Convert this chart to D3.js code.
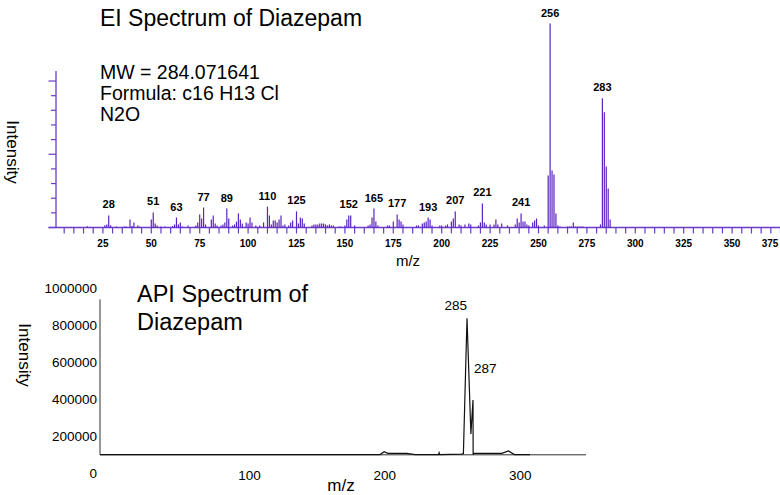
<!DOCTYPE html>
<html><head><meta charset="utf-8">
<script src="https://cdn.jsdelivr.net/npm/d3@7"></script>
<style>body{margin:0;background:#fff} svg{display:block} text{font-family:Arial,"Liberation Sans",sans-serif}</style>
</head><body><svg id="c" width="780" height="495"></svg>
<script>
// ---------- EI spectrum data ----------
const eiMz = [17,26,27,28,29,32,36,37,39,40,41,43,44,50,51,52,53,55,57,61,62,63,64,65,66,69,73,74,75,76,77,78,81,82,83,84,86,87,88,89,90,92,93,94,95,96,97,99,100,101,102,104,106,108,110,111,112,113,114,115,116,117,118,119,121,122,123,125,126,127,128,129,133,134,135,136,137,138,139,140,141,142,143,144,147,148,150,151,152,153,155,162,163,164,165,166,167,172,173,175,177,178,179,180,187,188,190,191,192,193,194,195,199,200,202,203,205,206,207,209,210,212,214,215,219,220,221,222,223,225,227,228,229,231,234,238,239,240,241,242,243,244,245,247,248,249,250,253,255,256,257,258,259,260,261,265,266,267,268,269,270,271,272,273,282,283,284,285,286,287];
const eiIntensity = [0.6,1.1,1.5,5.9,1.1,0.5,0.5,0.5,3.9,0.7,2.5,1.0,0.5,3.9,7.4,2.0,1.0,0.5,0.5,0.7,1.5,4.9,1.5,2.5,0.5,1.0,1.0,2.5,6.4,4.4,9.8,1.5,3.9,5.9,2.0,1.0,1.0,1.5,2.5,9.3,4.4,1.0,1.5,2.9,6.9,3.9,2.0,2.5,2.0,4.9,2.5,1.0,1.0,2.5,10.2,5.9,1.5,3.4,3.4,2.5,3.9,5.9,1.0,1.5,1.0,2.5,3.4,7.9,2.0,4.9,4.4,2.0,1.0,1.5,1.5,1.5,2.0,2.0,2.0,1.5,1.0,1.5,1.0,1.0,0.5,0.5,1.0,3.9,5.9,5.9,1.0,1.0,1.5,4.9,9.3,2.9,1.0,1.0,1.0,2.9,6.4,3.9,2.9,1.5,1.0,1.0,2.0,2.5,2.9,4.9,3.9,1.0,1.0,1.0,1.0,1.5,2.9,4.4,7.9,1.5,1.0,1.5,2.0,1.5,1.0,2.5,11.8,2.5,1.5,1.5,1.5,3.9,1.5,2.0,1.0,1.5,4.4,2.5,6.9,2.9,2.9,1.5,1.0,2.5,3.4,4.4,1.0,1.0,25.5,100,28.0,26.0,6.9,1.0,0.5,0.5,0.5,0.5,2.5,0.5,0.5,0.5,0.5,0.5,1.5,63.3,56.5,29.9,19.1,3.9];
const eiPeakLabels = [28,51,63,77,89,110,125,152,165,177,193,207,221,241,256,283];
const eiXTicks = d3.range(25, 400, 25);
const eiXMinorTicks = d3.range(5, 380, 5);
const eiYTicks = d3.range(0, 11).map(i => i * 7.18);
const eiTitle = "EI Spectrum of Diazepam";
const eiInfo = ["MW = 284.071641", "Formula: c16 H13 Cl", "N2O"];

// ---------- API spectrum data ----------
const apiMz = [162.7,256,257.4,258.6,264.9,267.7,275.5,275.7,275.9,283.2,283.8,285,286.3,287,287.05,287.3,296.6,298.8,300.8,306];
const apiIntensity = [101000,101000,117000,108000,108000,101000,101000,111000,101000,104000,106000,838000,212000,396000,100000,108000,108000,120500,101000,101000];
const apiPeakLabels = [285, 287];
const apiXTicks = [100, 200, 300];
const apiYTicks = [0, 200000, 400000, 600000, 800000, 1000000];
const apiYAxisExtent = [100000, 940000];
const apiTitle = ["API Spectrum of", "Diazepam"];

const svg = d3.select("#c");
const purple = "#5b22c0";
const axisPurple = "#6a3ccc";

// ===== EI chart =====
const x1 = d3.scaleLinear().domain([0, 375]).range([54.5, 780.5]);
const y1 = d3.scaleLinear().domain([0, 100]).range([227.5, 23.5]);
const ei = eiMz.map((m, i) => ({mz: m, v: eiIntensity[i]}));

const g1 = svg.append("g");
g1.append("line").attr("x1", 56).attr("x2", 56).attr("y1", y1(eiYTicks[10]) - 10).attr("y2", y1(0))
  .attr("stroke", axisPurple).attr("stroke-width", 1.3);
g1.selectAll(".yt").data(eiYTicks).join("line")
  .attr("x1", (d, i) => i % 5 === 0 ? 48.5 : 51).attr("x2", 56)
  .attr("y1", d => y1(d)).attr("y2", d => y1(d))
  .attr("stroke", axisPurple).attr("stroke-width", 1.2);
g1.append("line").attr("x1", 48.5).attr("x2", 780).attr("y1", y1(0)).attr("y2", y1(0))
  .attr("stroke", axisPurple).attr("stroke-width", 1.3);
g1.selectAll(".xt").data(eiXMinorTicks).join("line")
  .attr("x1", d => x1(d)).attr("x2", d => x1(d))
  .attr("y1", y1(0)).attr("y2", y1(0) + 6)
  .attr("stroke", axisPurple).attr("stroke-width", 1.2);
g1.selectAll(".xl").data(eiXTicks).join("text")
  .attr("x", d => Math.min(x1(d), 770)).attr("y", 247).attr("text-anchor", "middle")
  .attr("font-size", 10).attr("font-weight", "bold").text(d => d);
g1.selectAll(".bar").data(ei).join("line")
  .attr("x1", d => x1(d.mz)).attr("x2", d => x1(d.mz))
  .attr("y1", y1(0)).attr("y2", d => y1(d.v))
  .attr("stroke", purple).attr("stroke-width", 1.2);
g1.selectAll(".pl").data(eiPeakLabels).join("text")
  .attr("x", d => x1(d)).attr("y", d => y1(ei.find(p => p.mz === d).v) - 7)
  .attr("text-anchor", "middle").attr("font-size", 11).attr("font-weight", "bold").text(d => d);
g1.append("text").attr("x", 100).attr("y", 26).attr("font-size", 23).text(eiTitle);
g1.selectAll(".info").data(eiInfo).join("text")
  .attr("x", 100).attr("y", (d, i) => 79 + i * 21).attr("font-size", 19.5).text(d => d);
g1.append("text").attr("x", 408).attr("y", 266).attr("text-anchor", "middle").attr("font-size", 15).text("m/z");
g1.append("text").attr("transform", "translate(7,152) rotate(90)").attr("text-anchor", "middle").attr("font-size", 17).text("Intensity");

// ===== API chart =====
const xData = d3.scaleLinear().domain([160, 310]).range([92, 542]);
const xAxis2 = d3.scaleLinear().domain([0, 350]).range([114, 588]);
const y2 = d3.scaleLinear().domain([0, 1000000]).range([473.3, 288.3]);
const api = apiMz.map((m, i) => ({mz: m, v: apiIntensity[i]}));
const g2 = svg.append("g");
const axCol = "#333";
g2.append("line").attr("x1", 100).attr("x2", 100).attr("y1", y2(apiYAxisExtent[1])).attr("y2", y2(apiYAxisExtent[0]))
  .attr("stroke", axCol).attr("stroke-width", 1);
g2.append("line").attr("x1", 100).attr("x2", 586).attr("y1", y2(apiYAxisExtent[0])).attr("y2", y2(apiYAxisExtent[0]))
  .attr("stroke", axCol).attr("stroke-width", 1);
g2.selectAll(".yl").data(apiYTicks).join("text")
  .attr("x", 97).attr("y", d => y2(d) + 5).attr("text-anchor", "end").attr("font-size", 13.5).text(d => d);
g2.selectAll(".xl").data(apiXTicks).join("text")
  .attr("x", d => xAxis2(d)).attr("y", 480).attr("text-anchor", "middle").attr("font-size", 13.5).text(d => d);
g2.append("path").datum(api)
  .attr("d", d3.line().x(d => xData(d.mz)).y(d => y2(d.v)))
  .attr("fill", "none").attr("stroke", "#111").attr("stroke-width", 1.2).attr("stroke-linejoin", "miter");
const pk = mz => api.find(p => p.mz === mz);
g2.append("text").attr("x", xData(apiPeakLabels[0])).attr("y", y2(pk(apiPeakLabels[0]).v) - 8)
  .attr("text-anchor", "end").attr("font-size", 13.5).text(apiPeakLabels[0]);
g2.append("text").attr("x", xData(apiPeakLabels[1]) + 1).attr("y", y2(pk(apiPeakLabels[1]).v) - 27)
  .attr("text-anchor", "start").attr("font-size", 13.5).text(apiPeakLabels[1]);
g2.selectAll(".t").data(apiTitle).join("text")
  .attr("x", 137).attr("y", (d, i) => 302 + i * 27.5).attr("font-size", 23.5).text(d => d);
g2.append("text").attr("x", 341).attr("y", 491).attr("text-anchor", "middle").attr("font-size", 17).text("m/z");
g2.append("text").attr("transform", "translate(19,355) rotate(90)").attr("text-anchor", "middle").attr("font-size", 17).text("Intensity");
</script></body></html>
